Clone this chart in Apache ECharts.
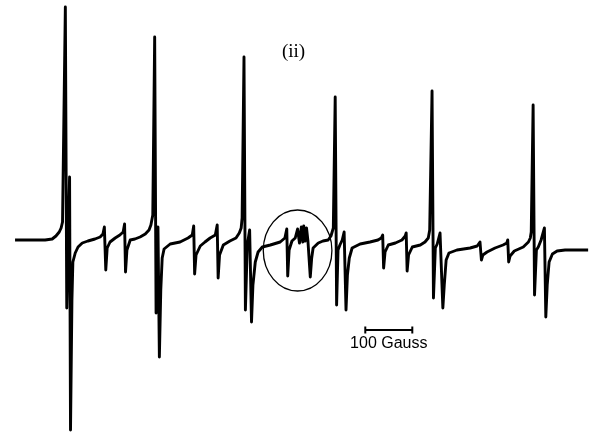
<!DOCTYPE html>
<html>
<head>
<meta charset="utf-8">
<script src="https://cdn.jsdelivr.net/npm/echarts@6/dist/echarts.min.js"></script>
<style>
  html, body { margin: 0; padding: 0; background: #fff; }
  #chart { width: 598px; height: 433px; }
</style>
</head>
<body>
<div id="chart"></div>
<script>
// EPR derivative spectrum, trace (ii): field relative to the start of the sweep (G)
const fieldG = [
  0, 32, 64, 79, 87, 94, 98, 101, 107, 110, 113, 116, 118, 121, 123, 128, 134, 143, 155, 170,
  181, 187, 190, 193, 196, 202, 213, 223, 230, 233, 235, 238, 245, 255, 266, 277, 285, 289, 293, 297,
  300, 303, 304, 307, 310, 313, 317, 330, 351, 368, 377, 380, 382, 385, 394, 404, 415, 426, 430, 432,
  435, 443, 457, 470, 477, 481, 483, 487, 490, 494, 499, 503, 506, 511, 517, 526, 543, 564, 574, 578,
  580, 583, 589, 596, 601, 605, 609, 612, 614, 617, 620, 623, 628, 631, 634, 645, 655, 666, 672, 677,
  681, 684, 687, 691, 696, 700, 704, 707, 711, 717, 734, 755, 772, 779, 782, 784, 787, 794, 809, 823,
  830, 832, 834, 837, 845, 862, 872, 879, 882, 887, 890, 894, 898, 904, 910, 913, 917, 923, 940, 968,
  983, 987, 989, 992, 995, 1004, 1021, 1038, 1046, 1048, 1050, 1053, 1062, 1081, 1092, 1096, 1098, 1102, 1105, 1109,
  1113, 1119, 1126, 1129, 1132, 1136, 1143, 1153, 1170, 1219
];
// first-derivative signal dχ''/dB (arbitrary units)
const signal = [
  0, 0, 0, 1, 4, 8, 12, 18, 233, -68, 0, 63, -190, -60, -22, -13, -7, -3, -1, 1,
  3, 6, 13, -30, -8, -2, 2, 5, 8, 16, -32, -10, 0, 1, 3, 6, 10, 15, 25, 203,
  -73, 0, 13, -117, -50, -18, -9, -4, -2, 2, 5, 14, -34, -15, -6, -2, 2, 5, 15, -38,
  -15, -5, -1, 2, 7, 12, 22, 183, -70, -5, 10, -82, -45, -22, -12, -7, -5, -2, 2, 11,
  -36, -10, -1, 2, 11, -3, 13, -2, 14, -1, 12, -1, -37, -18, -8, -3, -1, 0, 4, 12,
  143, -65, -10, -5, 0, 8, -70, -35, -18, -8, -4, -2, 0, 2, 5, -28, -12, -5, -3, 0,
  4, 7, -31, -15, -7, -5, -2, 2, 10, 149, -58, -8, -4, 7, -68, -45, -20, -13, -10, -8,
  -6, -4, -2, -20, -15, -12, -8, -5, -3, 0, -22, -16, -11, -7, -2, 2, 8, 135, -55, -10,
  -7, 0, 12, -77, -45, -22, -14, -11, -10, -10
];

// scale bar: 100 G span and the signal level it sits at
const scaleBarField = [745, 845];
const scaleBarSignal = -90;
const scaleBarText = '100 Gauss';
const traceLabel = '(ii)';

// highlighted region: centre (field, signal) and half-widths (G, a.u.)
const ringCentre = [601, -10.5];
const ringHalf = [73, 40.5];

const chart = echarts.init(document.getElementById('chart'), null, { renderer: 'canvas' });

const option = {
  backgroundColor: '#ffffff',
  animation: false,
  grid: { left: 0, right: 0, top: 0, bottom: 0 },
  xAxis: { type: 'value', min: -32, max: 1240, show: false },
  yAxis: { type: 'value', min: -193, max: 240, show: false },
  series: [
    {
      type: 'line',
      data: fieldG.map((b, i) => [b, signal[i]]),
      symbol: 'none',
      lineStyle: { color: '#000', width: 2.9, join: 'round' }
    },
    {
      type: 'line',
      data: scaleBarField.map(b => [b, scaleBarSignal]),
      symbol: 'rect',
      symbolSize: [2, 7],
      itemStyle: { color: '#000' },
      lineStyle: { color: '#000', width: 2 }
    }
  ]
};
chart.setOption(option);

// annotations placed from data coordinates
const mid = chart.convertToPixel({ gridIndex: 0 }, [(scaleBarField[0] + scaleBarField[1]) / 2, scaleBarSignal]);
const c = chart.convertToPixel({ gridIndex: 0 }, ringCentre);
const e = chart.convertToPixel({ gridIndex: 0 }, [ringCentre[0] + ringHalf[0], ringCentre[1] + ringHalf[1]]);
const peak = chart.convertToPixel({ gridIndex: 0 }, [601, 0]);

chart.setOption({
  graphic: [
    {
      type: 'ellipse',
      shape: { cx: c[0], cy: c[1], rx: Math.abs(e[0] - c[0]), ry: Math.abs(c[1] - e[1]) },
      style: { fill: 'none', stroke: '#000', lineWidth: 1.3 }
    },
    {
      type: 'text',
      x: mid[0], y: mid[1] + 14,
      style: {
        text: scaleBarText, fill: '#000',
        font: '16px "Liberation Sans", Arial, sans-serif',
        align: 'center', verticalAlign: 'middle'
      }
    },
    {
      type: 'text',
      x: peak[0] - 4, y: 52,
      style: {
        text: traceLabel, fill: '#000',
        font: '19px "Liberation Serif", "Times New Roman", serif',
        align: 'center', verticalAlign: 'middle'
      }
    }
  ]
});
</script>
</body>
</html>
